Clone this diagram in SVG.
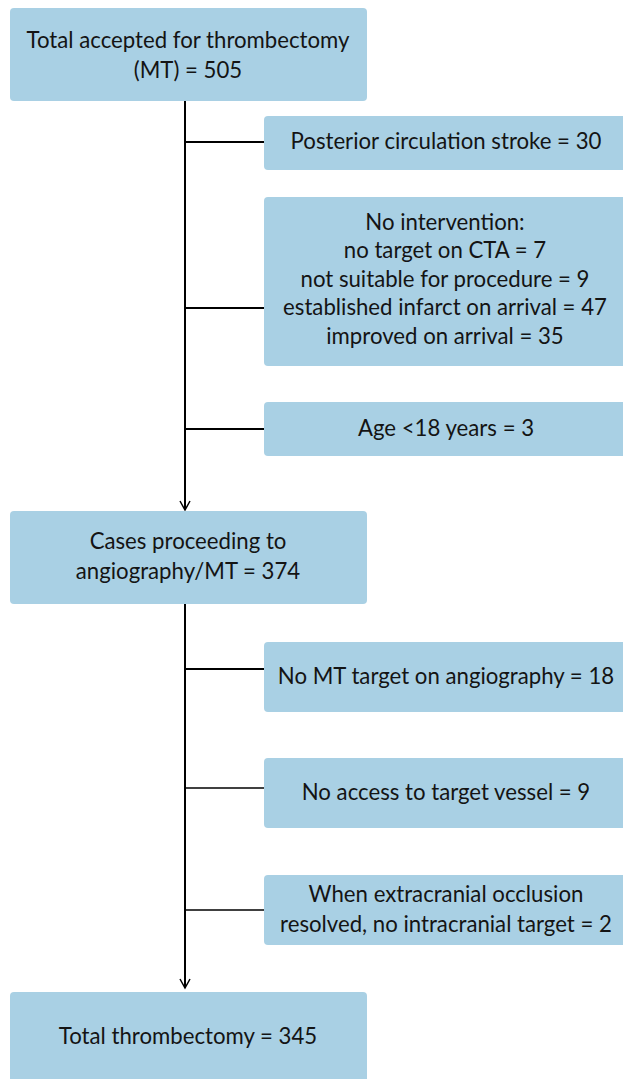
<svg xmlns="http://www.w3.org/2000/svg" width="623" height="1079" viewBox="0 0 623 1079">
<defs>
<style>
.box{fill:#a9d0e4;}
.t{font-family:Lato,"Open Sans","Liberation Sans",sans-serif;font-size:22.2px;fill:#141414;text-anchor:middle;}
.ln{stroke:#000;stroke-width:2;fill:none;}
.thin{stroke:#000;stroke-width:1.5;fill:none;}
</style>
<marker id="arr" markerWidth="12" markerHeight="12" refX="10" refY="6" orient="auto" markerUnits="userSpaceOnUse" viewBox="0 0 12 12">
<path d="M1,1 L10,6 L1,11" fill="none" stroke="#000" stroke-width="1.5"/>
</marker>
</defs>
<rect width="623" height="1079" fill="#fff"/>
<g id="connectors">
<line class="ln" x1="185" y1="101" x2="185" y2="510" marker-end="url(#arr)"/>
<line class="ln" x1="185" y1="142" x2="264" y2="142"/>
<line class="ln" x1="185" y1="308" x2="264" y2="308"/>
<line class="ln" x1="185" y1="429" x2="264" y2="429"/>
<line class="ln" x1="185" y1="604" x2="185" y2="988" marker-end="url(#arr)"/>
<line class="ln" x1="185" y1="669" x2="264" y2="669"/>
<line class="thin" x1="185" y1="788" x2="264" y2="788"/>
<line class="thin" x1="185" y1="910" x2="264" y2="910"/>
</g>
<g id="n-total">
<rect class="box" x="10" y="8" width="357" height="93" rx="4"/>
<text class="t" x="188" y="48">Total accepted for thrombectomy</text>
<text class="t" x="188" y="78">(MT) = 505</text>
</g>
<g id="n-posterior">
<rect class="box" x="264" y="116" width="400" height="54" rx="4"/>
<text class="t" x="446" y="149">Posterior circulation stroke = 30</text>
</g>
<g id="n-nointervention">
<rect class="box" x="264" y="197" width="400" height="169" rx="4"/>
<text class="t" x="445" y="230">No intervention:</text>
<text class="t" x="445" y="258">no target on CTA = 7</text>
<text class="t" x="445" y="287">not suitable for procedure = 9</text>
<text class="t" x="445" y="315">established infarct on arrival = 47</text>
<text class="t" x="445" y="344">improved on arrival = 35</text>
</g>
<g id="n-age">
<rect class="box" x="264" y="402" width="400" height="54" rx="4"/>
<text class="t" x="446" y="436">Age &lt;18 years = 3</text>
</g>
<g id="n-angio">
<rect class="box" x="10" y="511" width="357" height="93" rx="4"/>
<text class="t" x="188" y="549">Cases proceeding to</text>
<text class="t" x="188" y="579">angiography/MT = 374</text>
</g>
<g id="n-nomt">
<rect class="box" x="264" y="642" width="400" height="70" rx="4"/>
<text class="t" x="446" y="684">No MT target on angiography = 18</text>
</g>
<g id="n-noaccess">
<rect class="box" x="264" y="758" width="400" height="70" rx="4"/>
<text class="t" x="446" y="800">No access to target vessel = 9</text>
</g>
<g id="n-extracranial">
<rect class="box" x="264" y="875" width="400" height="70" rx="4"/>
<text class="t" x="446" y="902">When extracranial occlusion</text>
<text class="t" x="446" y="932">resolved, no intracranial target = 2</text>
</g>
<g id="n-final">
<rect class="box" x="10" y="992" width="357" height="100" rx="4"/>
<text class="t" x="188" y="1044">Total thrombectomy = 345</text>
</g>
</svg>
